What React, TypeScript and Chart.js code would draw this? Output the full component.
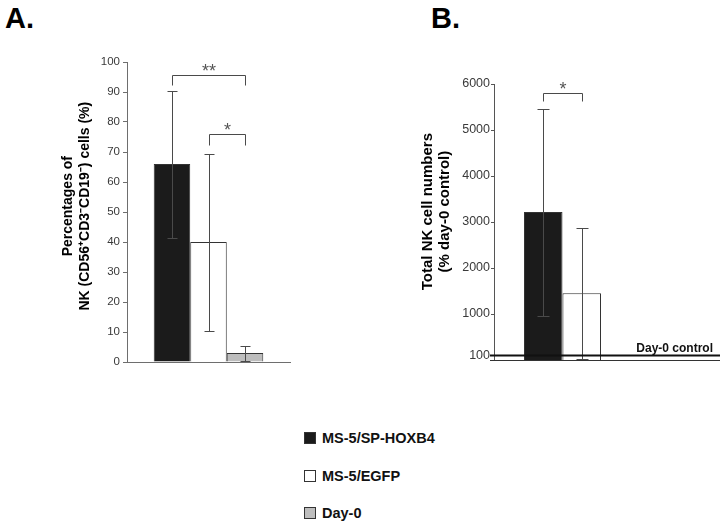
import React, { useEffect, useRef } from 'react';
import { Chart, registerables } from 'chart.js';

Chart.register(...registerables);

const FONT = '"Liberation Sans", Arial, Helvetica, sans-serif';

// ---- shared series ----
const seriesNames = ['MS-5/SP-HOXB4', 'MS-5/EGFP', 'Day-0'];
const seriesColors = ['#1b1b1b', '#ffffff', '#bdbdbd'];

// ---- Panel A: percentages of NK cells ----
const aCategories = [''];
const aMeans = [66, 40, 3];
const aLow = [41.5, 10.5, 0.5];
const aHigh = [90.5, 69.5, 5.3];
const aTicks = [0, 10, 20, 30, 40, 50, 60, 70, 80, 90, 100];
const aTitle = ['   Percentages of', '   NK (CD56\u207ACD3\u207BCD19\u207B) cells (%)'];
const aBrackets = [
  { from: 0, to: 2, top: 95.7, leg: 92.3, label: '**' },
  { from: 1, to: 2, top: 76, leg: 72.3, label: '*' },
];

// ---- Panel B: total NK cell numbers ----
const bCategories = [''];
const bMeans = [3220, 1450];
const bLow = [960, 30];
const bHigh = [5460, 2880];
const bTicks = [100, 1000, 2000, 3000, 4000, 5000, 6000];
const bTitle = ['     Total NK cell numbers', '     (% day-0 control)'];
const bBrackets = [{ from: 0, to: 1, top: 5800, leg: 5640, label: '*' }];
const bControlValue = 100;
const bControlLabel = 'Day-0 control';

type Bracket = { from: number; to: number; top: number; leg: number; label: string };

function makeAnnot(cfg: {
  low: number[];
  high: number[];
  brackets: Bracket[];
  cap: number;
  control?: { value: number; label: string; x0: number; x1: number };
}) {
  return {
    id: 'annot',
    afterDatasetsDraw(chart: any) {
      const { ctx, scales, chartArea } = chart;
      const y = scales.y;
      ctx.save();
      // error bars
      ctx.strokeStyle = '#4a4a4a';
      ctx.lineWidth = 1;
      cfg.low.forEach((lo, i) => {
        const bar = chart.getDatasetMeta(i).data[0];
        const x = Math.round(bar.x) + 0.5;
        const yl = Math.round(y.getPixelForValue(lo)) + 0.5;
        const yh = Math.round(y.getPixelForValue(cfg.high[i])) + 0.5;
        ctx.beginPath();
        ctx.moveTo(x, yl);
        ctx.lineTo(x, yh);
        ctx.moveTo(x - cfg.cap, yl);
        ctx.lineTo(x + cfg.cap, yl);
        ctx.moveTo(x - cfg.cap, yh);
        ctx.lineTo(x + cfg.cap, yh);
        ctx.stroke();
      });
      // significance brackets
      cfg.brackets.forEach((b) => {
        const x0 = Math.round(chart.getDatasetMeta(b.from).data[0].x) + 0.5;
        const x1 = Math.round(chart.getDatasetMeta(b.to).data[0].x) + 0.5;
        const yt = Math.round(y.getPixelForValue(b.top)) + 0.5;
        const yl = Math.round(y.getPixelForValue(b.leg)) + 0.5;
        ctx.strokeStyle = '#4a4a4a';
        ctx.beginPath();
        ctx.moveTo(x0, yl);
        ctx.lineTo(x0, yt);
        ctx.lineTo(x1, yt);
        ctx.lineTo(x1, yl);
        ctx.stroke();
        ctx.fillStyle = '#555';
        ctx.font = `18px ${FONT}`;
        ctx.textAlign = 'center';
        ctx.textBaseline = 'alphabetic';
        ctx.fillText(b.label, (x0 + x1) / 2, yt + 1.5);
      });
      // control line
      if (cfg.control) {
        const c = cfg.control;
        const yc = y.getPixelForValue(c.value);
        ctx.strokeStyle = '#111';
        ctx.lineWidth = 2;
        ctx.beginPath();
        ctx.moveTo(c.x0, yc);
        ctx.lineTo(c.x1, yc);
        ctx.stroke();
        // extend bottom axis
        ctx.lineWidth = 1;
        ctx.strokeStyle = '#333';
        const yb = Math.round(chartArea.bottom) + 0.5;
        ctx.beginPath();
        ctx.moveTo(c.x0, yb);
        ctx.lineTo(c.x1, yb);
        ctx.stroke();
        ctx.fillStyle = '#111';
        ctx.font = `bold 12px ${FONT}`;
        ctx.textAlign = 'right';
        ctx.textBaseline = 'alphabetic';
        ctx.fillText(c.label, c.x1 - 7, yc - 3);
      }
      ctx.restore();
    },
  };
}

function buildConfig(opts: {
  categories: string[];
  means: number[];
  low: number[];
  high: number[];
  ticks: number[];
  min: number;
  max: number;
  title: string[];
  titleSize: number;
  titleLine: number;
  titlePad: number;
  tickSize: number;
  tickLen: number;
  tickPad: number;
  yWidth: number;
  padding: { top: number; right: number; bottom: number; left: number };
  catPct: number;
  brackets: Bracket[];
  cap: number;
  axisColor: string;
  control?: { value: number; label: string; x0: number; x1: number };
}): any {
  return {
    type: 'bar',
    data: {
      labels: opts.categories,
      datasets: opts.means.map((v, i) => ({
        label: seriesNames[i],
        data: [v],
        backgroundColor: seriesColors[i],
        borderColor: '#333',
        borderWidth: 1,
        barPercentage: 1,
        categoryPercentage: opts.catPct,
      })),
    },
    options: {
      responsive: false,
      animation: false,
      devicePixelRatio: 1,
      layout: { padding: opts.padding },
      plugins: { legend: { display: false }, tooltip: { enabled: false } },
      scales: {
        x: {
          grid: { display: false },
          ticks: { display: false },
          border: { display: true, color: opts.axisColor, width: 1 },
          afterFit: (s: any) => {
            s.height = 0;
          },
        },
        y: {
          min: opts.min,
          max: opts.max,
          afterBuildTicks: (s: any) => {
            s.ticks = opts.ticks.map((v) => ({ value: v }));
          },
          afterFit: (s: any) => {
            s.width = opts.yWidth;
          },
          grid: {
            drawOnChartArea: false,
            drawTicks: true,
            tickLength: opts.tickLen,
            color: opts.axisColor,
            tickColor: opts.axisColor,
          },
          border: { display: true, color: opts.axisColor, width: 1 },
          ticks: {
            color: '#3a3a3a',
            font: { family: FONT, size: opts.tickSize },
            padding: opts.tickPad,
            autoSkip: false,
            callback: (v: any) => String(v),
          },
          title: {
            display: true,
            text: opts.title,
            color: '#000',
            font: { family: FONT, size: opts.titleSize, weight: 'bold', lineHeight: opts.titleLine },
            padding: { top: opts.titlePad, bottom: 0 },
          },
        },
      },
    },
    plugins: [makeAnnot({ low: opts.low, high: opts.high, brackets: opts.brackets, cap: opts.cap, control: opts.control })],
  };
}

function ChartCanvas({ config, width, height, left, top }: any) {
  const ref = useRef<HTMLCanvasElement | null>(null);
  useEffect(() => {
    if (!ref.current) return;
    const chart = new Chart(ref.current, config);
    return () => chart.destroy();
  }, [config]);
  return (
    <canvas
      ref={ref}
      width={width}
      height={height}
      style={{ position: 'absolute', left, top, width, height, display: 'block' }}
    />
  );
}

const configA = buildConfig({
  categories: aCategories,
  means: aMeans,
  low: aLow,
  high: aHigh,
  ticks: aTicks,
  min: 0,
  max: 100,
  title: aTitle,
  titleSize: 14,
  titleLine: 1.2,
  titlePad: 60,
  tickSize: 11.5,
  tickLen: 4,
  tickPad: 3,
  yWidth: 127,
  padding: { top: 62, right: 40, bottom: 38, left: 0 },
  catPct: 0.672,
  brackets: aBrackets,
  cap: 5,
  axisColor: '#6e6e6e',
});

const configB = buildConfig({
  categories: bCategories,
  means: bMeans,
  low: bLow,
  high: bHigh,
  ticks: bTicks,
  min: 0,
  max: 6000,
  title: bTitle,
  titleSize: 15,
  titleLine: 1.13,
  titlePad: 89.5,
  tickSize: 12.5,
  tickLen: 3,
  tickPad: 1,
  yWidth: 164,
  padding: { top: 84, right: 95, bottom: 40, left: 0 },
  catPct: 0.562,
  brackets: bBrackets,
  cap: 6,
  axisColor: '#555',
  control: { value: bControlValue, label: bControlLabel, x0: 160, x1: 390 },
});

const legendItems = seriesNames.map((name, i) => ({ name, color: seriesColors[i] }));
const legendRowTops = [431, 469, 506];

export default function App() {
  return (
    <div style={{ position: 'absolute', left: 0, top: 0, width: 726, height: 524, background: '#fff', fontFamily: FONT }}>
      <div style={{ position: 'absolute', left: 5, top: 4, fontSize: 29, lineHeight: '29px', fontWeight: 'bold', color: '#000' }}>A.</div>
      <div style={{ position: 'absolute', left: 431, top: 4, fontSize: 29, lineHeight: '29px', fontWeight: 'bold', color: '#000' }}>B.</div>
      <ChartCanvas config={configA} width={330} height={400} left={0} top={0} />
      <ChartCanvas config={configB} width={396} height={400} left={330} top={0} />
      {legendItems.map((it, i) => (
        <div key={it.name} style={{ position: 'absolute', left: 304, top: legendRowTops[i], height: 14, display: 'flex', alignItems: 'center' }}>
          <span style={{ display: 'inline-block', width: 12, height: 12, background: it.color, border: '1px solid #333', boxSizing: 'border-box' }} />
          <span style={{ marginLeft: 6, fontSize: 14.5, fontWeight: 'bold', color: '#111', lineHeight: '14px' }}>{it.name}</span>
        </div>
      ))}
    </div>
  );
}
